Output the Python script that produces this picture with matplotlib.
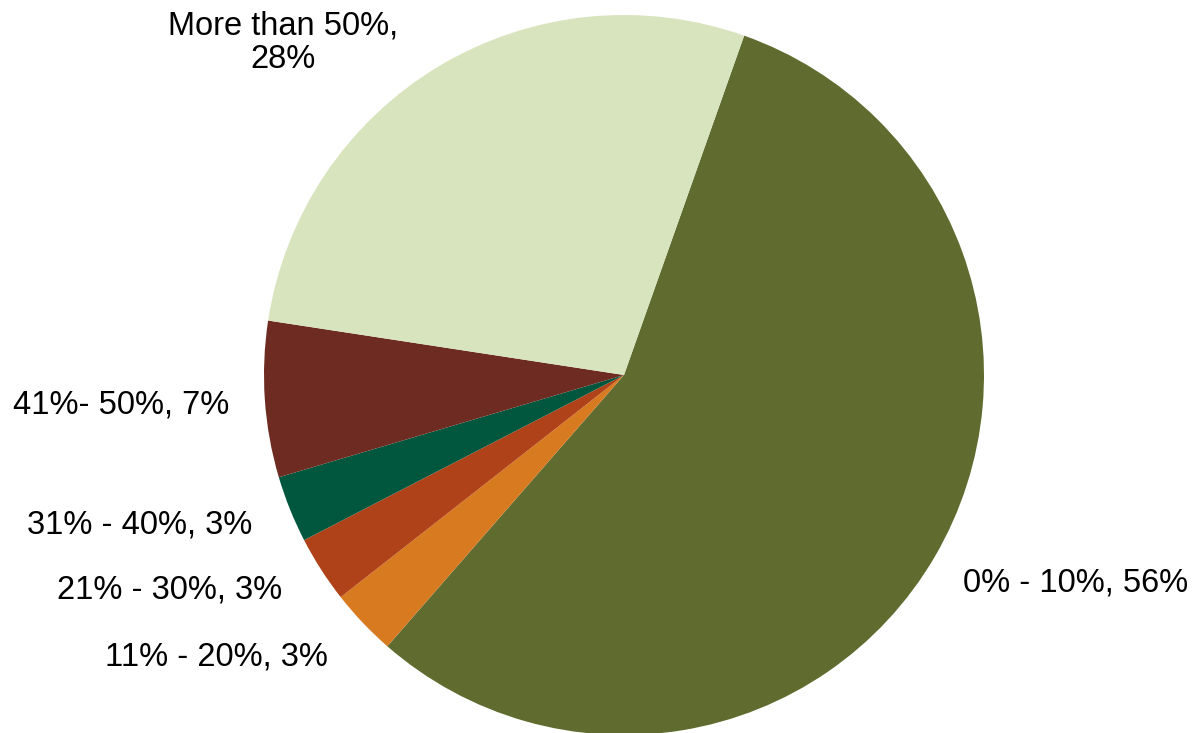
import matplotlib.pyplot as plt

plt.rcParams['font.family'] = ['Liberation Sans', 'DejaVu Sans']

# share of respondents per range
categories = ['0% - 10%', '11% - 20%', '21% - 30%', '31% - 40%', '41%- 50%', 'More than 50%']
values = [56, 3, 3, 3, 7, 28]
colors = ['#5F6B2F', '#D87A1F', '#B0421A', '#00573D', '#6D2B21', '#D8E4BE']

# label anchor points in pixel space (x, y from top)
label_pos = [(1076, 583), (216, 657), (170, 590), (140, 525), (121, 405), (283, 43)]

W, H = 1194, 733
fig = plt.figure(figsize=(W / 100, H / 100), dpi=100)
ax = fig.add_axes([0, 0, 1, 1])

ax.pie(values, colors=colors, startangle=70.5, counterclock=False,
       center=(624, H - 375), radius=360, frame=True,
       wedgeprops=dict(linewidth=0))
ax.set_xlim(0, W)
ax.set_ylim(0, H)
ax.set_aspect('equal')
ax.axis('off')

for cat, v, (x, y) in zip(categories, values, label_pos):
    if cat.startswith('More'):
        txt = f'{cat},\n{v}%'
    else:
        txt = f'{cat}, {v}%'
    ax.text(x, H - y, txt, ha='center', va='center', fontsize=23.5,
            color='black', linespacing=1.12)

fig.savefig('out.png', dpi=100)
